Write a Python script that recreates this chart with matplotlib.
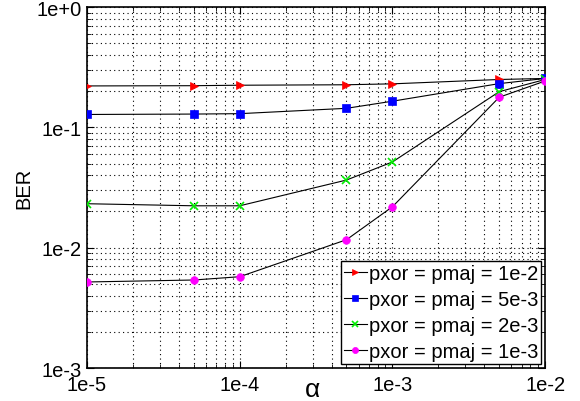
import matplotlib
matplotlib.use("Agg")
import matplotlib.pyplot as plt
from matplotlib.ticker import LogLocator, FixedLocator, FixedFormatter, NullFormatter

plt.rcParams['font.family'] = ['Liberation Sans', 'DejaVu Sans']

alpha = [1e-5, 5e-5, 1e-4, 5e-4, 1e-3, 5e-3, 1e-2]
ber_1e2 = [0.221, 0.222, 0.224, 0.226, 0.230, 0.250, 0.255]
ber_5e3 = [0.128, 0.129, 0.130, 0.144, 0.165, 0.231, 0.255]
ber_2e3 = [0.0232, 0.0223, 0.0223, 0.0365, 0.0516, 0.198, 0.250]
ber_1e3 = [0.00519, 0.00539, 0.00574, 0.01165, 0.0219, 0.178, 0.243]

series = [
    (ber_1e2, '>', '#ff0000', 'pxor = pmaj = 1e-2'),
    (ber_5e3, 's', '#0000ff', 'pxor = pmaj = 5e-3'),
    (ber_2e3, 'x', '#00ee00', 'pxor = pmaj = 2e-3'),
    (ber_1e3, 'o', '#ff00ff', 'pxor = pmaj = 1e-3'),
]

xticks = [1e-5, 1e-4, 1e-3, 1e-2]
xticklabels = ['1e-5', '1e-4', '1e-3', '1e-2']
yticks = [1e-3, 1e-2, 1e-1, 1e0]
yticklabels = ['1e-3', '1e-2', '1e-1', '1e+0']

fig = plt.figure(figsize=(5.8, 4.02), dpi=100)
ax = fig.add_axes([0.15, 0.082, 0.79, 0.898])

for ys, m, c, lab in series:
    ax.plot(alpha, ys, color='black', lw=0.8, marker=m, markersize=5.5,
            markerfacecolor=c, markeredgecolor=c, mew=1.2 if m == 'x' else 0.5,
            label=lab, zorder=3)

ax.set_xscale('log')
ax.set_yscale('log')
ax.set_xlim(1e-5, 1e-2)
ax.set_ylim(1e-3, 1e0)

ax.xaxis.set_major_locator(FixedLocator(xticks))
ax.xaxis.set_major_formatter(FixedFormatter(xticklabels))
ax.yaxis.set_major_locator(FixedLocator(yticks))
ax.yaxis.set_major_formatter(FixedFormatter(yticklabels))
ax.xaxis.set_minor_locator(LogLocator(base=10, subs=range(2, 10)))
ax.yaxis.set_minor_locator(LogLocator(base=10, subs=range(2, 10)))
ax.xaxis.set_minor_formatter(NullFormatter())
ax.yaxis.set_minor_formatter(NullFormatter())

ax.grid(True, which='both', color='black', linestyle=(0, (1, 3)), linewidth=0.8)
ax.tick_params(which='both', direction='in', top=True, right=True, labelsize=14.5)
ax.tick_params(axis='x', pad=5)
ax.tick_params(axis='y', pad=4)
ax.tick_params(which='major', length=5)
ax.tick_params(which='minor', length=3)
for s in ax.spines.values():
    s.set_linewidth(1.2)

fig.text(312 / 580, 1 - 397 / 402, 'α', fontsize=19, ha='center', va='baseline')
ax.set_ylabel('BER', fontsize=14.5, labelpad=2)

leg = ax.legend(loc='lower right', fontsize=14.5, fancybox=False, edgecolor='black',
                framealpha=1, borderaxespad=0.2, handlelength=1.15, handletextpad=0.1,
                labelspacing=0.35, borderpad=0.15, markerscale=0.8)
leg.get_frame().set_linewidth(1.0)

fig.savefig('out.png', dpi=100)
